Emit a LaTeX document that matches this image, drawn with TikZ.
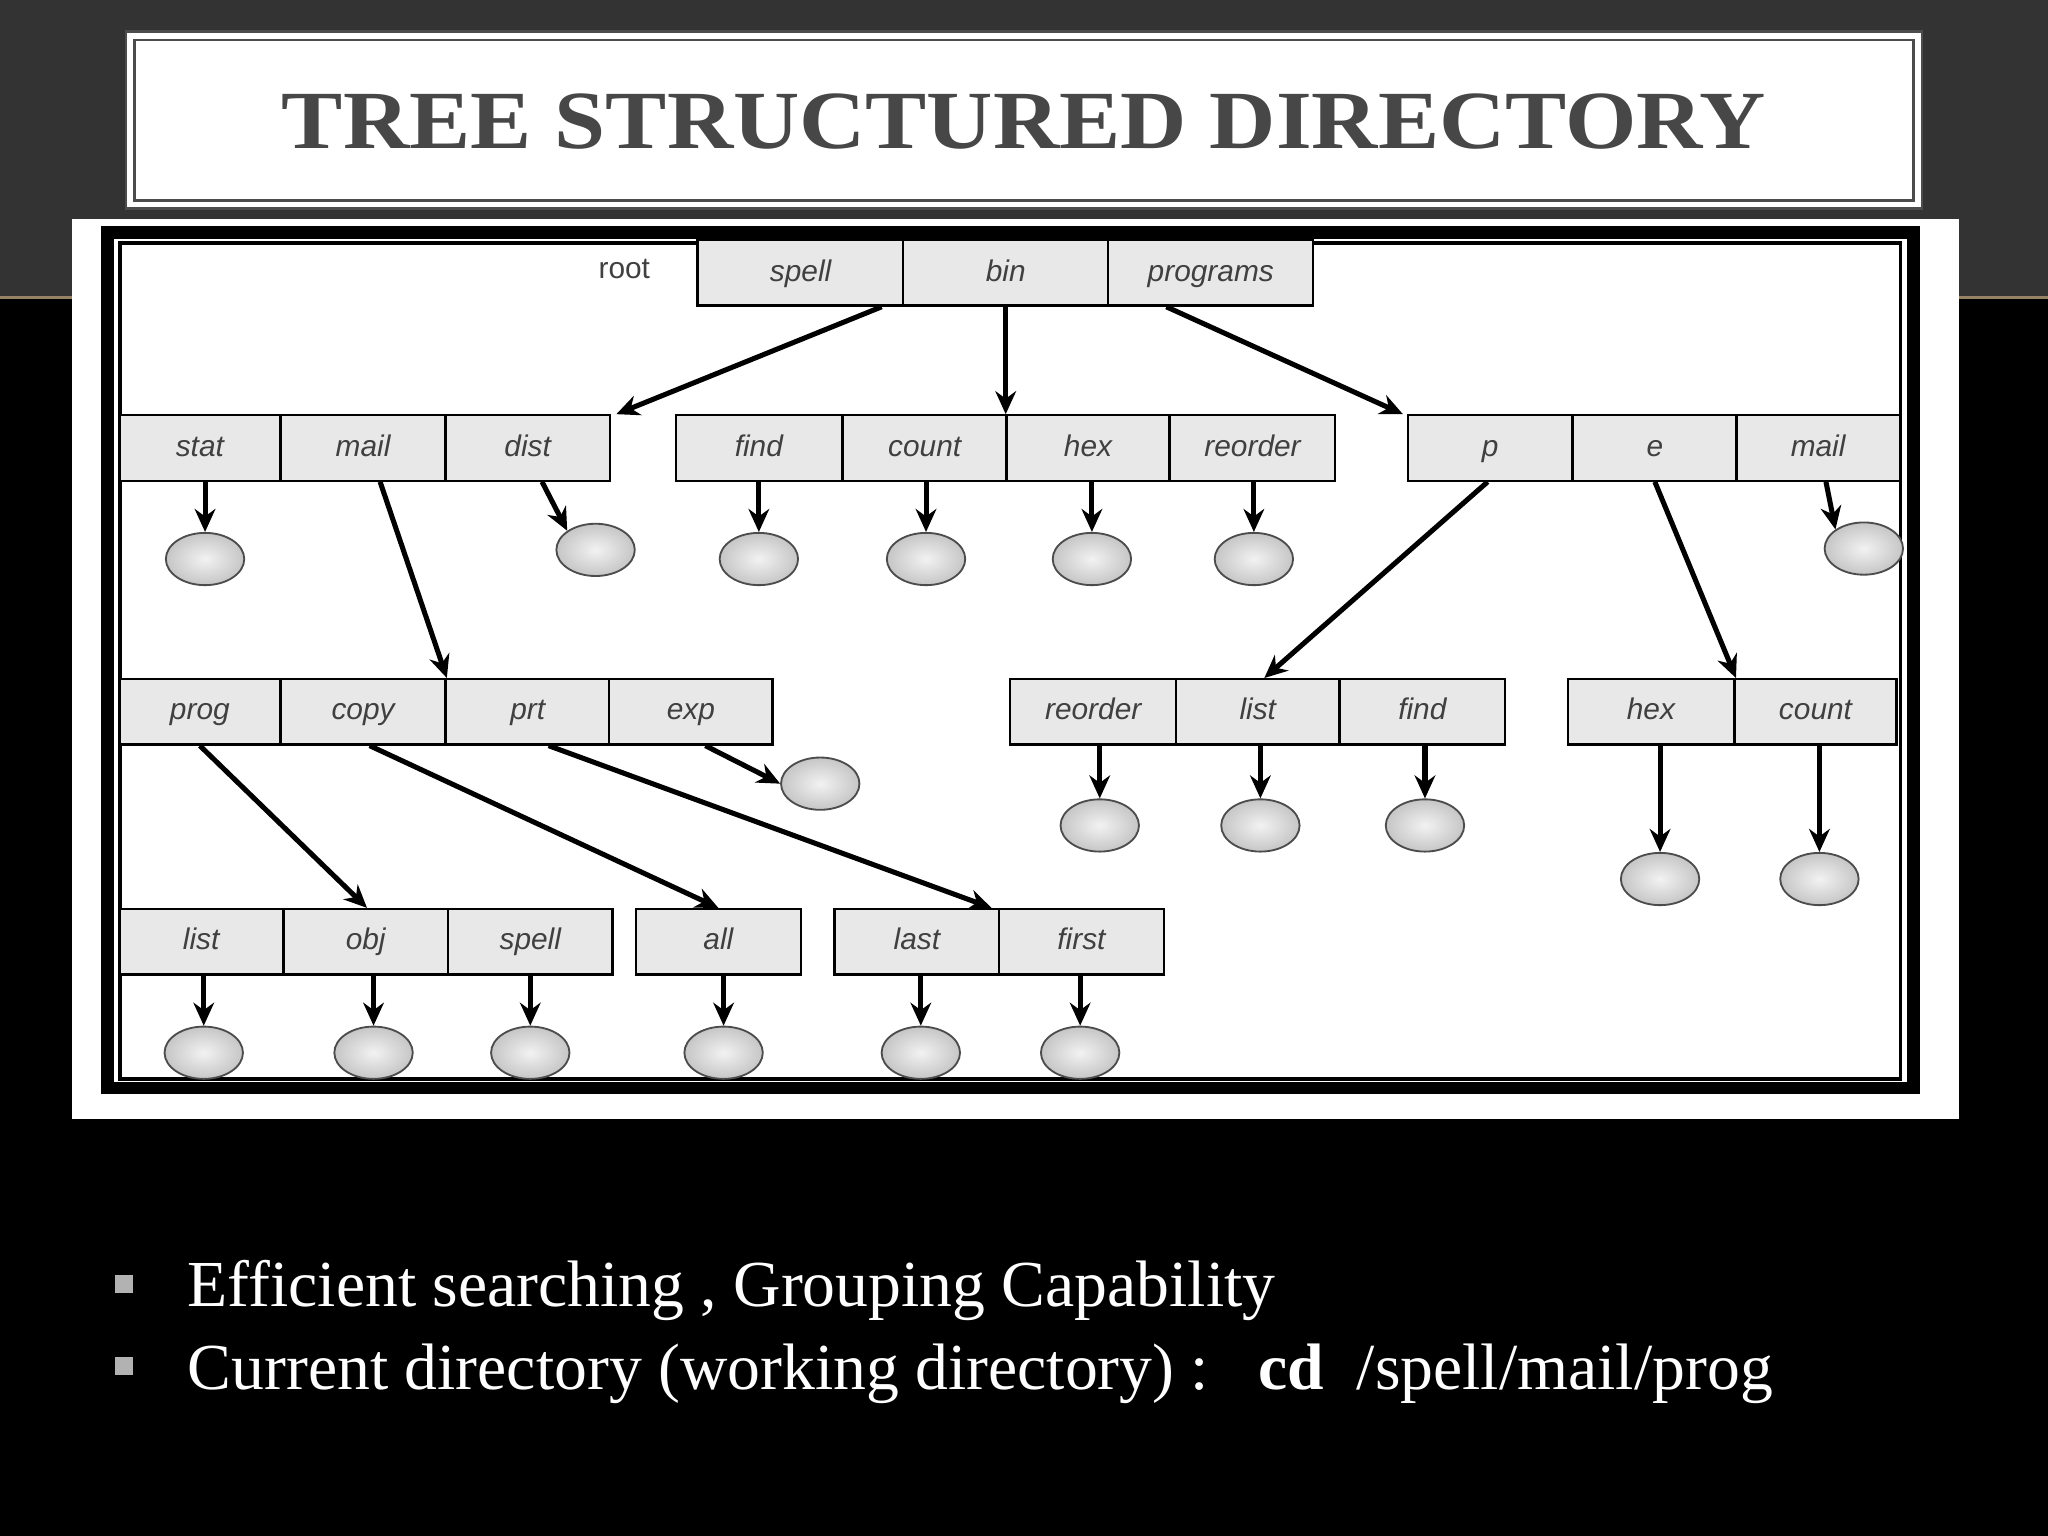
\documentclass[tikz,border=0pt]{standalone}
\usepackage{fontspec}
\setmainfont{Liberation Serif}
\newfontfamily\boxfont{Liberation Sans}
\usetikzlibrary{arrows.meta,shapes.geometric}
\newcommand\bx[5]{\node[box,minimum width=#4*0.01cm] (#1) at (#2,#3) {#5};}
\newcommand\lf[3]{\node[leaf] (#1) at (#2,#3) {};}
\begin{document}
\begin{tikzpicture}[x=0.01cm,y=-0.01cm,
 box/.style={draw=black,line width=0.5pt,fill=gray!18,minimum height=0.5cm,inner sep=0pt,text height=5pt,text depth=1.5pt,font=\boxfont\itshape\fontsize{6.5}{7}\selectfont,text=black!75},
 leaf/.style={ellipse,draw=black!70,line width=0.4pt,inner color=gray!10,outer color=gray!45,minimum width=0.6cm,minimum height=0.4cm,inner sep=0pt},
 arr/.style={-{Stealth[length=5pt,width=4.5pt]},line width=1.1pt}]
\useasboundingbox (0,0) rectangle (1568,1176);
\fill[black] (0,0) rectangle (1568,1176);
\fill[black!80] (0,0) rectangle (1568,228);
\draw[color={rgb,255:red,150;green,130;blue,100},line width=0.6pt] (0,228) -- (1568,228);
\node[draw=black!70,fill=white,line width=0.6pt,minimum width=13.68cm,minimum height=1.29cm,double=white,double distance=1.2pt] (title) at (784,92) {};
\node[font=\bfseries\fontsize{18}{20}\selectfont,text=black!72,xscale=1.11] (tt) at (784,93) {TREE STRUCTURED DIRECTORY};
\fill[white] (55,168) rectangle (1500,857);
\draw[line width=2.8pt] (82,178) rectangle (1465,833);
\draw[line width=0.8pt] (92,186) rectangle (1455,826);
\node[font=\boxfont\fontsize{6.5}{7}\selectfont,text=black!75] (root) at (478,206) {root};
\bx{spell}{613}{209}{158}{spell}
\bx{bin}{770}{209}{157}{bin}
\bx{programs}{927}{209}{157}{programs}
% row 2
\bx{stat}{153}{343}{123}{stat}
\bx{mail}{278}{343}{126}{mail}
\bx{dist}{404}{343}{126}{dist}
\bx{find}{581}{343}{127}{find}
\bx{count}{708}{343}{126}{count}
\bx{hex}{833}{343}{125}{hex}
\bx{reorder}{959}{343}{126}{reorder}
\bx{p}{1141}{343}{126}{p}
\bx{e}{1267}{343}{126}{e}
\bx{mailb}{1392}{343}{125}{mail}
% row 3
\bx{prog}{153}{545}{123}{prog}
\bx{copy}{278}{545}{126}{copy}
\bx{prt}{404}{545}{126}{prt}
\bx{exp}{529}{545}{125}{exp}
\bx{reorderb}{837}{545}{127}{reorder}
\bx{list}{963}{545}{125}{list}
\bx{findb}{1089}{545}{126}{find}
\bx{hexb}{1264}{545}{127}{hex}
\bx{countb}{1390}{545}{124}{count}
% row 4
\bx{listb}{154}{721}{125}{list}
\bx{obj}{280}{721}{126}{obj}
\bx{spellb}{406}{721}{126}{spell}
\bx{all}{550}{721}{126}{all}
\bx{last}{702}{721}{126}{last}
\bx{first}{828}{721}{126}{first}
% leaves
\lf{l1}{157}{428}\lf{l2}{456}{421}\lf{l3}{581}{428}\lf{l4}{709}{428}\lf{l5}{836}{428}\lf{l6}{960}{428}\lf{l7}{1427}{420}
\lf{m1}{628}{600}\lf{m2}{842}{632}\lf{m3}{965}{632}\lf{m4}{1091}{632}\lf{m5}{1271}{673}\lf{m6}{1393}{673}
\lf{n1}{156}{806}\lf{n2}{286}{806}\lf{n3}{406}{806}\lf{n4}{554}{806}\lf{n5}{705}{806}\lf{n6}{827}{806}
% arrows
\draw[arr] ([xshift=0.62cm]spell.south) -- ([xshift=0.04cm]dist.north east);
\draw[arr] (bin.south) -- (bin.south |- reorder.north);
\draw[arr] ([xshift=-0.34cm]programs.south) -- ([xshift=-0.03cm]p.north west);
\draw[arr] ([xshift=0.13cm]mail.south) -- ([xshift=0.02cm]prt.north west);
\draw[arr] ([xshift=-0.02cm]p.south) -- ([xshift=0.05cm]list.north);
\draw[arr] ([xshift=0.0cm]e.south) -- ([xshift=0.02cm]countb.north west);
\draw[arr] (prog.south) -- ([xshift=0.01cm]obj.north);
\draw[arr] ([xshift=0.05cm]copy.south) -- (all.north);
\draw[arr] ([xshift=0.16cm]prt.south) -- ([xshift=-0.05cm]first.north west);
\draw[arr] ([xshift=0.11cm]exp.south) -- (m1.west);
\draw[arr] ([xshift=0.11cm]dist.south) -- (l2.north west);
\draw[arr] ([xshift=0.06cm]mailb.south) -- (l7.north west);
\foreach \b/\l in {stat/l1,find/l3,count/l4,hex/l5,reorder/l6,reorderb/m2,list/m3,findb/m4,hexb/m5,countb/m6,listb/n1,obj/n2,spellb/n3,all/n4,last/n5,first/n6}
  \draw[arr] (\l.north |- \b.south) -- (\l.north);
% bullets
\fill[gray!60] (88,976) rectangle (102,990);
\fill[gray!60] (88,1039) rectangle (102,1053);
\node[anchor=west,text=white,font=\fontsize{14.3}{16}\selectfont,inner sep=0pt] (t1) at (143,988) {Efficient searching , Grouping Capability};
\node[anchor=west,text=white,font=\fontsize{14.3}{16}\selectfont,inner sep=0pt] (t2) at (143,1052) {Current directory (working directory) :\ \ \ \textbf{cd}\ \ /spell/mail/prog};
\end{tikzpicture}
\end{document}
